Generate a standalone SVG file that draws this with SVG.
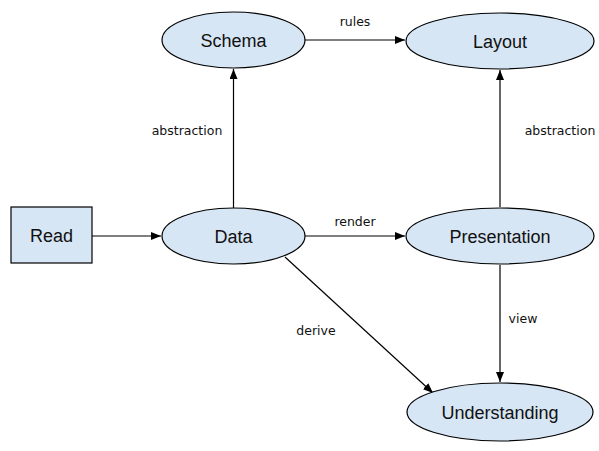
<svg xmlns="http://www.w3.org/2000/svg" width="599" height="451" viewBox="0 0 599 451">
<style>
.node{fill:#d6e6f5;stroke:#000;stroke-width:1.2}
.nt{font-family:"Liberation Sans",Arial,sans-serif;font-size:18px;fill:#111;text-anchor:middle;dominant-baseline:central}
.lbl{font-family:"DejaVu Sans",sans-serif;font-size:12.5px;fill:#111;text-anchor:middle;dominant-baseline:central}
.edge{stroke:#000;stroke-width:1.2;fill:none;marker-end:url(#arr)}
</style>
<defs>
<marker id="arr" viewBox="0 0 10 8" refX="10" refY="4" markerWidth="10" markerHeight="8" markerUnits="userSpaceOnUse" orient="auto">
<path d="M0,0 L10,4 L0,8 z" fill="#000"/>
</marker>
</defs>
<rect width="599" height="451" fill="#fff"/>
<g id="connectors">
<line class="edge" x1="92" y1="236" x2="161" y2="236"/>
<line class="edge" x1="233.5" y1="208" x2="233.5" y2="69"/>
<line class="edge" x1="305" y1="40" x2="405" y2="40"/>
<line class="edge" x1="305" y1="236" x2="405" y2="236"/>
<line class="edge" x1="500" y1="207" x2="500" y2="70"/>
<line class="edge" x1="500" y1="265" x2="500" y2="382"/>
<line class="edge" x1="285" y1="257" x2="433" y2="393"/>
<text class="lbl" x="187" y="130">abstraction</text>
<text class="lbl" x="355" y="21">rules</text>
<text class="lbl" x="355" y="221">render</text>
<text class="lbl" x="560" y="130">abstraction</text>
<text class="lbl" x="523" y="318">view</text>
<text class="lbl" x="316" y="330">derive</text>
</g>
<g id="read">
<rect class="node" x="11" y="207" width="81" height="56"/>
<text class="nt" x="51.5" y="236">Read</text>
</g>
<g id="schema">
<ellipse class="node" cx="233.5" cy="40" rx="71.5" ry="28"/>
<text class="nt" x="233.5" y="41">Schema</text>
</g>
<g id="data">
<ellipse class="node" cx="233.5" cy="236" rx="71.5" ry="28"/>
<text class="nt" x="233.5" y="237">Data</text>
</g>
<g id="layout">
<ellipse class="node" cx="500" cy="41" rx="94" ry="28"/>
<text class="nt" x="500" y="42">Layout</text>
</g>
<g id="presentation">
<ellipse class="node" cx="500" cy="236" rx="94" ry="28"/>
<text class="nt" x="500" y="237">Presentation</text>
</g>
<g id="understanding">
<ellipse class="node" cx="500" cy="412" rx="93" ry="29"/>
<text class="nt" x="500" y="413">Understanding</text>
</g>
</svg>
